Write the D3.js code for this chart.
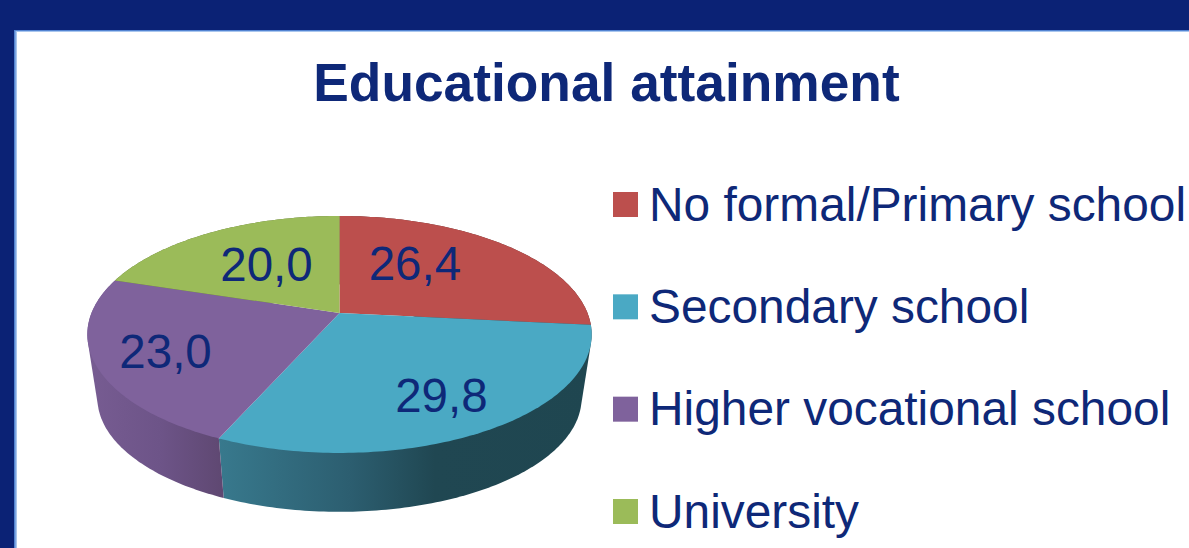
<!DOCTYPE html>
<html>
<head>
<meta charset="utf-8">
<title>Educational attainment</title>
<script src="https://cdn.jsdelivr.net/npm/d3@7/dist/d3.min.js"></script>
<style>
  html, body { margin: 0; padding: 0; background: #0b2275; overflow: hidden; }
  svg { display: block; }
  text { font-family: "Liberation Sans", Arial, sans-serif; fill: #0e2878; }
</style>
</head>
<body>
<svg id="chart" width="1189" height="548"></svg>
<script>
// Survey shares by level of education
const categories = ["No formal/Primary school", "Secondary school", "Higher vocational school", "University"];
const shares = [26.4, 29.8, 23.0, 20.0];
const shareLabels = ["26,4", "29,8", "23,0", "20,0"];
const topColors = ["#bc4f4d", "#4aa9c4", "#7f629c", "#9bbb59"];

// Label offsets from each slice's mid-angle anchor
const labelNudges = [[-27.5, 10], [19.5, 33], [-32, 25], [8, 19]];

const svg = d3.select("#chart");
const defs = svg.append("defs");

// Slide panel with its pale blue edge
svg.append("rect").attr("x", 14).attr("y", 30).attr("width", 1180).attr("height", 530).attr("fill", "#5384d2");
svg.append("rect").attr("x", 15.5).attr("y", 31).attr("width", 1180).attr("height", 530).attr("fill", "#a9c6ee");
svg.append("rect").attr("x", 17).attr("y", 32).attr("width", 1180).attr("height", 530).attr("fill", "#ffffff");

svg.append("text")
  .attr("x", 606.5).attr("y", 101)
  .attr("text-anchor", "middle")
  .attr("font-size", 53.3).attr("font-weight", 700)
  .text("Educational attainment");

// Perspective view of the disc: unit circle to screen coordinates
const apex = { x: 339.5, y: 313 };
const spreadX = 248, spreadY = 114.6, tilt = 0.181;
const baseScale = 0.96, baseDrop = 64.5;

function project(angle, radius, isBase) {
  const X = radius * Math.sin(angle);
  const Y = -radius * Math.cos(angle);
  const w = 1 - tilt * Y;
  const s = isBase ? baseScale : 1;
  return [
    apex.x + s * spreadX * X / w,
    apex.y + (isBase ? baseDrop : 0) + s * spreadY * Y / w
  ];
}

const slices = d3.pie().sort(null).value(d => d)(shares);
const outline = d3.line();

function rimPoints(slice, isBase) {
  const steps = Math.max(8, Math.ceil((slice.endAngle - slice.startAngle) * 60));
  return d3.range(steps + 1).map(i => {
    const t = slice.startAngle + (slice.endAngle - slice.startAngle) * i / steps;
    return project(t, 1, isBase);
  });
}

// Side wall shading, lit from the left and falling into shadow on the right
const wallShades = [
  [[91, "#5e2f2e"], [592, "#5e2f2e"]],
  [[219, "#38798d"], [350, "#2c5e70"], [435, "#204752"], [592, "#1f4650"]],
  [[88, "#775c92"], [160, "#6d5488"], [222, "#5f4872"]],
  [[88, "#5c7034"], [340, "#5c7034"]]
];
wallShades.forEach((stops, i) => {
  const g = defs.append("linearGradient")
    .attr("id", "wall" + i)
    .attr("gradientUnits", "userSpaceOnUse")
    .attr("x1", stops[0][0]).attr("x2", stops[stops.length - 1][0])
    .attr("y1", 0).attr("y2", 0);
  const x0 = stops[0][0], x1 = stops[stops.length - 1][0];
  stops.forEach(([x, c]) => g.append("stop").attr("offset", (x - x0) / (x1 - x0)).attr("stop-color", c));
});

// Each wall is the hull of its top and bottom rims, so the outer silhouette stays tangent
svg.append("g").selectAll("path")
  .data(slices)
  .join("path")
  .attr("fill", (d, i) => `url(#wall${i})`)
  .attr("d", d => outline(d3.polygonHull(rimPoints(d, false).concat(rimPoints(d, true)))) + "Z");

svg.append("g").selectAll("path")
  .data(slices)
  .join("path")
  .attr("fill", (d, i) => topColors[i])
  .attr("d", d => outline([[apex.x, apex.y]].concat(rimPoints(d, false))) + "Z");

// Value labels on the disc
svg.append("g").selectAll("text")
  .data(slices)
  .join("text")
  .attr("text-anchor", "middle")
  .attr("font-size", 47.5)
  .attr("x", (d, i) => project((d.startAngle + d.endAngle) / 2, 0.6, false)[0] + labelNudges[i][0])
  .attr("y", (d, i) => project((d.startAngle + d.endAngle) / 2, 0.6, false)[1] + labelNudges[i][1])
  .text((d, i) => shareLabels[i]);

// Legend
const legendY = d3.scalePoint().domain(categories).range([205, 512]);
const legend = svg.append("g").selectAll("g")
  .data(categories)
  .join("g")
  .attr("transform", d => `translate(613,${legendY(d)})`);
legend.append("rect")
  .attr("x", 0).attr("y", -13)
  .attr("width", 25).attr("height", 25)
  .attr("fill", (d, i) => topColors[i]);
legend.append("text")
  .attr("x", 36).attr("y", 15.5)
  .attr("font-size", 47.85)
  .text(d => d);
</script>
</body>
</html>
